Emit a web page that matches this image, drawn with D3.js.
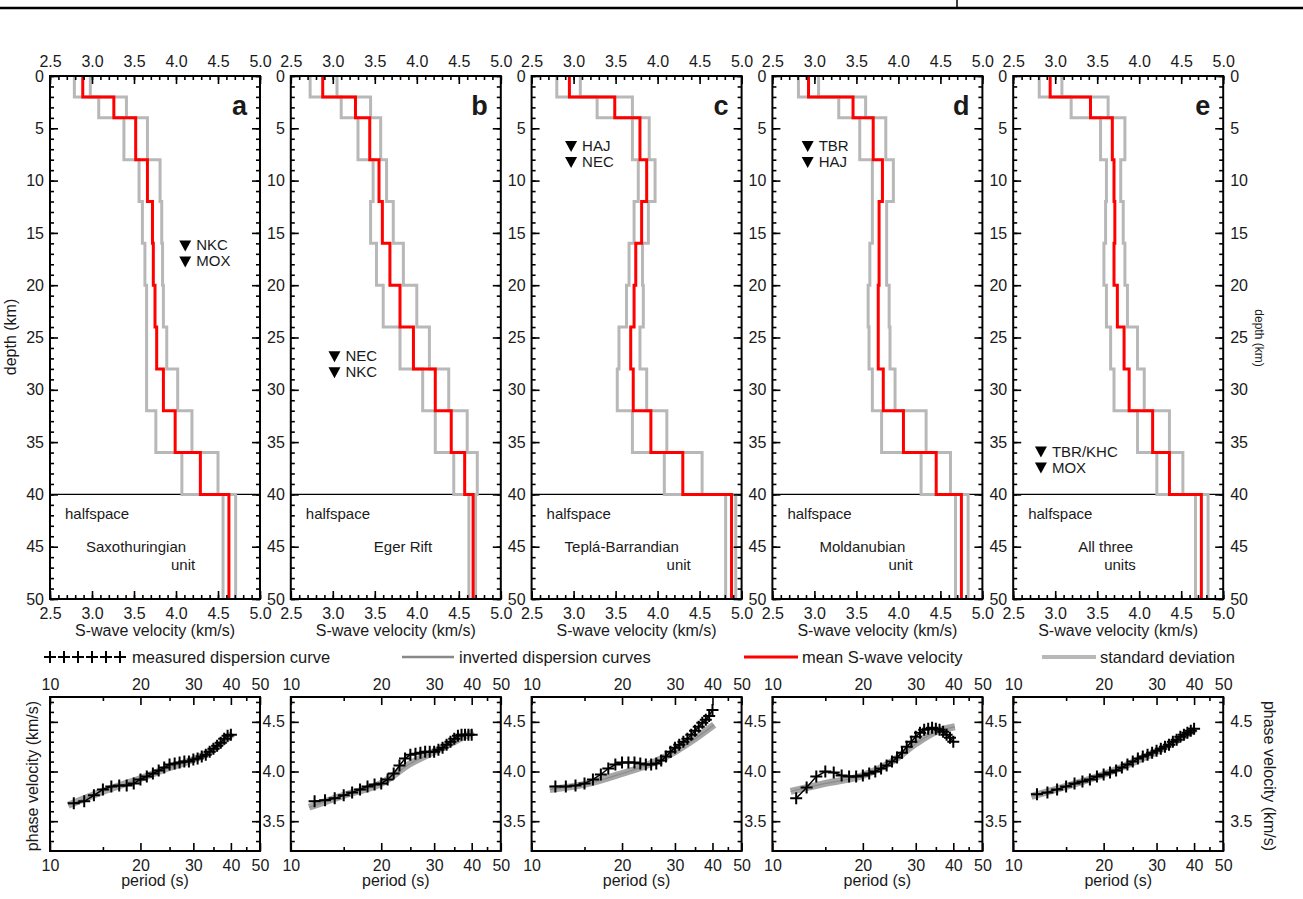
<!DOCTYPE html>
<html>
<head>
<meta charset="utf-8">
<script src="https://cdn.jsdelivr.net/npm/d3@7"></script>
<style>
  body { margin: 0; background: #fff; }
  svg text { font-family: "Liberation Sans", Arial, sans-serif; fill: #1a1a1a; }
</style>
</head>
<body>
<div id="chart"></div>
<script>
// layer boundaries of the velocity models (km)
var layerTops = [0, 2, 4, 8, 12, 16, 20, 24, 28, 32, 36, 40, 50];

// S-wave velocity per layer (last value = halfspace)
var meanA = [2.89, 3.26, 3.52, 3.66, 3.72, 3.73, 3.75, 3.77, 3.85, 3.99, 4.29, 4.63];
var lowA  = [2.79, 3.08, 3.38, 3.56, 3.60, 3.63, 3.65, 3.65, 3.65, 3.76, 4.07, 4.56];
var highA = [2.98, 3.41, 3.66, 3.81, 3.83, 3.84, 3.85, 3.89, 4.02, 4.19, 4.50, 4.71];

var meanB = [2.88, 3.27, 3.44, 3.55, 3.59, 3.68, 3.80, 3.96, 4.22, 4.41, 4.57, 4.67];
var lowB  = [2.73, 3.10, 3.30, 3.48, 3.45, 3.52, 3.60, 3.80, 4.07, 4.22, 4.44, 4.62];
var highB = [3.05, 3.45, 3.57, 3.64, 3.72, 3.84, 4.00, 4.15, 4.38, 4.60, 4.72, 4.70];

var meanC = [2.95, 3.49, 3.79, 3.87, 3.81, 3.74, 3.72, 3.68, 3.71, 3.92, 4.30, 4.88];
var lowC  = [2.80, 3.28, 3.70, 3.77, 3.72, 3.66, 3.63, 3.54, 3.52, 3.70, 4.08, 4.81];
var highC = [3.08, 3.70, 3.90, 3.97, 3.89, 3.82, 3.83, 3.79, 3.87, 4.11, 4.53, 4.93];

var meanD = [2.93, 3.46, 3.70, 3.81, 3.77, 3.77, 3.76, 3.76, 3.82, 4.06, 4.45, 4.75];
var lowD  = [2.81, 3.29, 3.54, 3.69, 3.69, 3.66, 3.64, 3.65, 3.69, 3.80, 4.27, 4.68];
var highD = [3.05, 3.61, 3.85, 3.94, 3.86, 3.86, 3.89, 3.90, 3.96, 4.33, 4.62, 4.83];

var meanE = [2.94, 3.42, 3.68, 3.70, 3.71, 3.70, 3.74, 3.82, 3.88, 4.16, 4.36, 4.74];
var lowE  = [2.81, 3.19, 3.54, 3.61, 3.60, 3.58, 3.61, 3.66, 3.70, 3.98, 4.21, 4.67];
var highE = [3.08, 3.63, 3.83, 3.78, 3.81, 3.83, 3.86, 3.98, 4.06, 4.36, 4.52, 4.82];

// dispersion curves: period (s) and phase velocity (km/s)
var periods = [12, 13, 14, 15, 16, 17, 18, 19, 20, 21, 22, 23, 24, 25, 26, 27, 28, 29, 30, 31, 32, 33, 34, 35, 36, 37, 38, 39, 40];
var phaseA = [3.68, 3.70, 3.76, 3.82, 3.85, 3.86, 3.86, 3.88, 3.92, 3.95, 3.98, 4.01, 4.04, 4.07, 4.08, 4.09, 4.10, 4.10, 4.12, 4.13, 4.15, 4.17, 4.20, 4.23, 4.26, 4.29, 4.33, 4.36, 4.37];
var phaseB = [3.70, 3.71, 3.73, 3.76, 3.79, 3.82, 3.85, 3.87, 3.88, 3.92, 3.98, 4.06, 4.13, 4.17, 4.18, 4.19, 4.20, 4.20, 4.20, 4.22, 4.24, 4.27, 4.30, 4.33, 4.36, 4.37, 4.37, 4.37, 4.37];
var phaseC = [3.85, 3.85, 3.86, 3.88, 3.92, 3.97, 4.03, 4.07, 4.09, 4.09, 4.09, 4.08, 4.07, 4.07, 4.08, 4.11, 4.15, 4.20, 4.24, 4.27, 4.30, 4.33, 4.37, 4.41, 4.45, 4.49, 4.52, 4.56, 4.62];
var phaseD = [3.73, 3.84, 3.95, 4.00, 3.99, 3.96, 3.95, 3.95, 3.96, 3.98, 4.00, 4.03, 4.06, 4.10, 4.14, 4.19, 4.25, 4.30, 4.35, 4.39, 4.42, 4.43, 4.44, 4.43, 4.42, 4.40, 4.37, 4.34, 4.30];
var phaseE = [3.77, 3.79, 3.82, 3.85, 3.88, 3.90, 3.92, 3.95, 3.97, 3.99, 4.01, 4.04, 4.07, 4.10, 4.13, 4.15, 4.17, 4.19, 4.21, 4.23, 4.25, 4.27, 4.30, 4.32, 4.35, 4.37, 4.39, 4.41, 4.43];

// band of inverted dispersion curves (grey)
var bandPeriods = [11.5, 15, 20, 25, 30, 35, 40.5];
var bandA = [3.66, 3.80, 3.93, 4.04, 4.12, 4.22, 4.38];
var bandB = [3.64, 3.76, 3.88, 4.08, 4.20, 4.30, 4.40];
var bandC = [3.82, 3.87, 3.98, 4.08, 4.20, 4.33, 4.47];
var bandD = [3.80, 3.88, 3.96, 4.10, 4.28, 4.40, 4.45];
var bandE = [3.75, 3.85, 3.97, 4.09, 4.20, 4.31, 4.43];

var stationsA = ["NKC", "MOX"];
var stationsB = ["NEC", "NKC"];
var stationsC = ["HAJ", "NEC"];
var stationsD = ["TBR", "HAJ"];
var stationsE = ["TBR/KHC", "MOX"];

var velTicks = [2.5, 3.0, 3.5, 4.0, 4.5, 5.0];
var depthTicks = [0, 5, 10, 15, 20, 25, 30, 35, 40, 45, 50];
var periodTicks = [10, 20, 30, 40, 50];
var phaseTicks = [3.5, 4.0, 4.5];

var panels = [
  { letter: "a", mean: meanA, low: lowA, high: highA, phase: phaseA, band: bandA, st: stationsA, stV: 4.11, stD: 16.2, unit: ["Saxothuringian", "unit"], unitX: [36, 121] },
  { letter: "b", mean: meanB, low: lowB, high: highB, phase: phaseB, band: bandB, st: stationsB, stV: 3.02, stD: 26.8, unit: ["Eger Rift"], unitX: [83] },
  { letter: "c", mean: meanC, low: lowC, high: highC, phase: phaseC, band: bandC, st: stationsC, stV: 2.97, stD: 6.7, unit: ["Teplá-Barrandian", "unit"], unitX: [33, 135] },
  { letter: "d", mean: meanD, low: lowD, high: highD, phase: phaseD, band: bandD, st: stationsD, stV: 2.92, stD: 6.7, unit: ["Moldanubian", "unit"], unitX: [47, 116] },
  { letter: "e", mean: meanE, low: lowE, high: highE, phase: phaseE, band: bandE, st: stationsE, stV: 2.83, stD: 35.9, unit: ["All three", "units"], unitX: [65, 91] }
];

var W = 1303, H = 899;
var svg = d3.select("#chart").append("svg").attr("width", W).attr("height", H);

// page rule at the top
svg.append("line").attr("x1", 0).attr("x2", W).attr("y1", 8).attr("y2", 8).attr("stroke", "#000").attr("stroke-width", 2.5);
svg.append("line").attr("x1", 957).attr("x2", 957).attr("y1", 0).attr("y2", 8).attr("stroke", "#000").attr("stroke-width", 1.5);

var pw = 210, pStep = 240.8, x0 = 50;
var topY = 76, botY = 599;
var dTop = 697, dBot = 851;
var tickFs = 16, titleFs = 16, noteFs = 15;

function stepPoints(vals) {
  var pts = [];
  vals.forEach(function (v, i) {
    pts.push([v, layerTops[i]]);
    pts.push([v, layerTops[i + 1]]);
  });
  return pts;
}

function inwardTicks(g, axisFn, scale, vals, size) {
  g.call(axisFn(scale).tickValues(vals).tickSize(-size).tickFormat(""))
    .call(function (s) { s.select(".domain").remove(); })
    .selectAll("line").attr("stroke", "#000").attr("stroke-width", 1.6);
}

function labels(g, axisFn, scale, vals, fmt, pad) {
  g.call(axisFn(scale).tickValues(vals).tickSize(0).tickPadding(pad).tickFormat(fmt))
    .call(function (s) { s.select(".domain").remove(); })
    .selectAll("text").attr("font-size", tickFs).attr("fill", "#1a1a1a")
    .style("font-family", "'Liberation Sans', Arial, sans-serif");
}

var minorVel = d3.range(25, 51).map(function (d) { return d / 10; });
var minorDepth = d3.range(0, 51);
var minorPhase = d3.range(33, 48).map(function (d) { return d / 10; });
var minorPeriod = [15, 25, 35, 45];

panels.forEach(function (p, i) {
  var left = x0 + i * pStep, right = left + pw;
  var x = d3.scaleLinear().domain([2.5, 5]).range([left, right]);
  var y = d3.scaleLinear().domain([0, 50]).range([topY, botY]);
  var g = svg.append("g");

  // halfspace boundary
  g.append("line").attr("x1", left).attr("x2", right).attr("y1", y(40)).attr("y2", y(40))
    .attr("stroke", "#000").attr("stroke-width", 1.3);

  var line = d3.line().x(function (d) { return x(d[0]); }).y(function (d) { return y(d[1]); });
  [p.low, p.high].forEach(function (arr) {
    g.append("path").attr("d", line(stepPoints(arr))).attr("fill", "none")
      .attr("stroke", "#b8b8b8").attr("stroke-width", 3);
  });
  g.append("path").attr("d", line(stepPoints(p.mean))).attr("fill", "none")
    .attr("stroke", "#ff0000").attr("stroke-width", 3);

  // ticks
  inwardTicks(g.append("g").attr("transform", "translate(" + left + ",0)"), d3.axisLeft, y, minorDepth, 4);
  inwardTicks(g.append("g").attr("transform", "translate(" + left + ",0)"), d3.axisLeft, y, depthTicks, 8);
  inwardTicks(g.append("g").attr("transform", "translate(" + right + ",0)"), d3.axisRight, y, minorDepth, 4);
  inwardTicks(g.append("g").attr("transform", "translate(" + right + ",0)"), d3.axisRight, y, depthTicks, 8);
  inwardTicks(g.append("g").attr("transform", "translate(0," + topY + ")"), d3.axisTop, x, minorVel, 4);
  inwardTicks(g.append("g").attr("transform", "translate(0," + topY + ")"), d3.axisTop, x, velTicks, 8);
  inwardTicks(g.append("g").attr("transform", "translate(0," + botY + ")"), d3.axisBottom, x, minorVel, 4);
  inwardTicks(g.append("g").attr("transform", "translate(0," + botY + ")"), d3.axisBottom, x, velTicks, 8);

  g.append("rect").attr("x", left).attr("y", topY).attr("width", pw).attr("height", botY - topY)
    .attr("fill", "none").attr("stroke", "#000").attr("stroke-width", 2);

  // tick labels
  labels(g.append("g").attr("transform", "translate(0," + topY + ")"), d3.axisTop, x, velTicks, d3.format(".1f"), 9);
  labels(g.append("g").attr("transform", "translate(0," + botY + ")"), d3.axisBottom, x, velTicks, d3.format(".1f"), 9);
  labels(g.append("g").attr("transform", "translate(" + (left - 1) + ",0)"), d3.axisLeft, y, depthTicks, d3.format("d"), 5);
  if (i === 4) {
    labels(g.append("g").attr("transform", "translate(" + (right + 1) + ",0)"), d3.axisRight, y, depthTicks, d3.format("d"), 6);
  }

  g.append("text").attr("x", (left + right) / 2).attr("y", 636).attr("text-anchor", "middle")
    .attr("font-size", titleFs).text("S-wave velocity (km/s)");

  g.append("text").attr("x", right - 13).attr("y", 115).attr("text-anchor", "end")
    .attr("font-size", 27).attr("font-weight", "bold").attr("fill", "#000").text(p.letter);

  g.append("text").attr("x", left + 15).attr("y", 519).attr("font-size", noteFs).text("halfspace");
  p.unit.forEach(function (t, k) {
    g.append("text").attr("x", left + p.unitX[k]).attr("y", 552 + k * 18).attr("font-size", noteFs).text(t);
  });

  // station markers
  p.st.forEach(function (s, k) {
    var cx = x(p.stV), cy = y(p.stD) + k * 16;
    g.append("path").attr("d", "M" + (cx - 6) + "," + (cy - 5) + "L" + (cx + 6) + "," + (cy - 5) + "L" + cx + "," + (cy + 6) + "Z")
      .attr("fill", "#000");
    g.append("text").attr("x", cx + 11).attr("y", cy + 5).attr("font-size", noteFs).text(s);
  });

  // dispersion panel
  var px = d3.scaleLog().domain([10, 50]).range([left, right]);
  var py = d3.scaleLinear().domain([3.2, 4.75]).range([dBot, dTop]);
  var h = svg.append("g");

  var bandLine = d3.line().curve(d3.curveMonotoneX)
    .x(function (d, k) { return px(bandPeriods[k]); }).y(function (d) { return py(d); });
  h.append("path").attr("d", bandLine(p.band)).attr("fill", "none")
    .attr("stroke", "#a6a6a6").attr("stroke-width", 7);
  h.append("path").attr("d", bandLine(p.band)).attr("fill", "none")
    .attr("stroke", "#8c8c8c").attr("stroke-width", 1.2);

  var measLine = d3.line().x(function (d, k) { return px(periods[k]); }).y(function (d) { return py(d); });
  h.append("path").attr("d", measLine(p.phase)).attr("fill", "none")
    .attr("stroke", "#000").attr("stroke-width", 1.5);
  h.selectAll(".pl").data(p.phase).enter().append("path")
    .attr("d", function (d, k) {
      var cx = px(periods[k]), cy = py(d);
      return "M" + (cx - 6) + "," + cy + "H" + (cx + 6) + "M" + cx + "," + (cy - 6) + "V" + (cy + 6);
    })
    .attr("stroke", "#000").attr("stroke-width", 2);

  inwardTicks(h.append("g").attr("transform", "translate(" + left + ",0)"), d3.axisLeft, py, minorPhase, 4);
  inwardTicks(h.append("g").attr("transform", "translate(" + left + ",0)"), d3.axisLeft, py, phaseTicks, 8);
  inwardTicks(h.append("g").attr("transform", "translate(" + right + ",0)"), d3.axisRight, py, minorPhase, 4);
  inwardTicks(h.append("g").attr("transform", "translate(" + right + ",0)"), d3.axisRight, py, phaseTicks, 8);
  inwardTicks(h.append("g").attr("transform", "translate(0," + dTop + ")"), d3.axisTop, px, minorPeriod, 4);
  inwardTicks(h.append("g").attr("transform", "translate(0," + dTop + ")"), d3.axisTop, px, periodTicks, 8);
  inwardTicks(h.append("g").attr("transform", "translate(0," + dBot + ")"), d3.axisBottom, px, minorPeriod, 4);
  inwardTicks(h.append("g").attr("transform", "translate(0," + dBot + ")"), d3.axisBottom, px, periodTicks, 8);

  h.append("rect").attr("x", left).attr("y", dTop).attr("width", pw).attr("height", dBot - dTop)
    .attr("fill", "none").attr("stroke", "#000").attr("stroke-width", 2);

  labels(h.append("g").attr("transform", "translate(0," + dTop + ")"), d3.axisTop, px, periodTicks, d3.format("d"), 7);
  labels(h.append("g").attr("transform", "translate(0," + dBot + ")"), d3.axisBottom, px, periodTicks, d3.format("d"), 9);
  if (i > 0) {
    labels(h.append("g").attr("transform", "translate(" + (left - 1) + ",0)"), d3.axisLeft, py, phaseTicks, d3.format(".1f"), 5);
  }
  if (i === 4) {
    labels(h.append("g").attr("transform", "translate(" + (right + 1) + ",0)"), d3.axisRight, py, phaseTicks, d3.format(".1f"), 6);
  }
  h.append("text").attr("x", (left + right) / 2).attr("y", 886).attr("text-anchor", "middle")
    .attr("font-size", titleFs).text("period (s)");
});

// axis titles
svg.append("text").attr("transform", "translate(16,337) rotate(-90)").attr("text-anchor", "middle")
  .attr("font-size", titleFs).text("depth (km)");
svg.append("text").attr("transform", "translate(1255,338) rotate(90)").attr("text-anchor", "middle")
  .attr("font-size", 12).text("depth (km)");
svg.append("text").attr("transform", "translate(38,776) rotate(-90)").attr("text-anchor", "middle")
  .attr("font-size", titleFs).text("phase velocity (km/s)");
svg.append("text").attr("transform", "translate(1264,776) rotate(90)").attr("text-anchor", "middle")
  .attr("font-size", titleFs).text("phase velocity (km/s)");

// legend
var lg = svg.append("g");
var legFs = 16.5;
var plusX = [50, 64, 78, 92, 106, 120];
plusX.forEach(function (cx) {
  lg.append("path").attr("d", "M" + (cx - 6) + ",657H" + (cx + 6) + "M" + cx + ",651V663")
    .attr("stroke", "#000").attr("stroke-width", 2);
});
lg.append("text").attr("x", 132).attr("y", 663).attr("font-size", legFs).text("measured dispersion curve");
lg.append("line").attr("x1", 402).attr("x2", 454).attr("y1", 657).attr("y2", 657).attr("stroke", "#888").attr("stroke-width", 2.5);
lg.append("text").attr("x", 459).attr("y", 663).attr("font-size", legFs).text("inverted dispersion curves");
lg.append("line").attr("x1", 744).attr("x2", 798).attr("y1", 657).attr("y2", 657).attr("stroke", "#ff0000").attr("stroke-width", 3);
lg.append("text").attr("x", 802).attr("y", 663).attr("font-size", legFs).text("mean S-wave velocity");
lg.append("line").attr("x1", 1042).attr("x2", 1096).attr("y1", 657).attr("y2", 657).attr("stroke", "#b8b8b8").attr("stroke-width", 4);
lg.append("text").attr("x", 1100).attr("y", 663).attr("font-size", legFs).text("standard deviation");
</script>
</body>
</html>
